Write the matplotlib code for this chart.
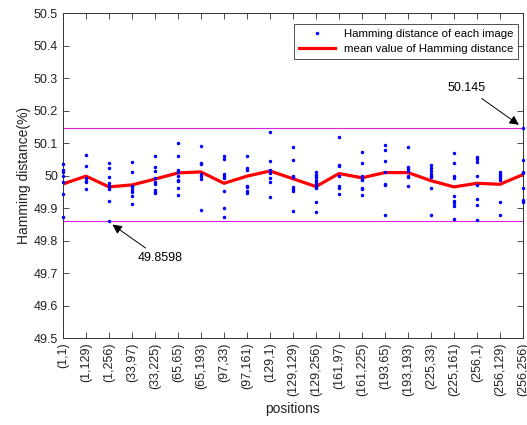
import numpy as np
import matplotlib
matplotlib.use("Agg")
import matplotlib.pyplot as plt
from matplotlib.ticker import FormatStrFormatter

plt.rcParams['font.family'] = ['Liberation Sans', 'DejaVu Sans']

positions = ["(1,1)", "(1,129)", "(1,256)", "(33,97)", "(33,225)", "(65,65)",
             "(65,193)", "(97,33)", "(97,161)", "(129,1)", "(129,129)",
             "(129,256)", "(161,97)", "(161,225)", "(193,65)", "(193,193)",
             "(225,33)", "(225,161)", "(256,1)", "(256,129)", "(256,256)"]

# Hamming distance of each test image, per position (%)
samples = [
    [50.035, 50.018, 50.011, 50.0, 49.981, 49.943, 49.871],
    [50.063, 50.030, 49.991, 49.984, 49.980, 49.958],
    [50.039, 50.023, 49.995, 49.976, 49.968, 49.959, 49.923, 49.860],
    [50.041, 50.010, 49.969, 49.964, 49.955, 49.949, 49.938, 49.913],
    [50.061, 50.027, 50.014, 49.992, 49.981, 49.973, 49.955, 49.950, 49.946],
    [50.101, 50.060, 50.017, 50.010, 50.0, 49.987, 49.983, 49.963, 49.940],
    [50.090, 50.038, 50.034, 50.005, 49.999, 49.990, 49.895],
    [50.061, 50.052, 50.004, 49.997, 49.992, 49.951, 49.899, 49.871],
    [50.060, 50.023, 50.016, 49.969, 49.965, 49.951, 49.946],
    [50.134, 50.045, 50.017, 50.007, 49.992, 49.979, 49.934],
    [50.087, 50.047, 49.997, 49.994, 49.965, 49.958, 49.952, 49.891],
    [50.011, 50.002, 49.994, 49.986, 49.981, 49.975, 49.965, 49.961, 49.920, 49.888],
    [50.120, 50.033, 50.028, 49.998, 49.968, 49.963, 49.942],
    [50.071, 50.037, 49.999, 49.988, 49.986, 49.961, 49.958, 49.940],
    [50.093, 50.077, 50.044, 50.012, 49.975, 49.972, 49.878],
    [50.087, 50.025, 50.020, 50.014, 49.998, 49.994, 49.969],
    [50.033, 50.022, 50.014, 50.006, 50.0, 49.994, 49.961, 49.878],
    [50.070, 50.038, 49.998, 49.992, 49.938, 49.921, 49.915, 49.906, 49.867],
    [50.057, 50.052, 50.041, 49.999, 49.971, 49.927, 49.909, 49.863],
    [50.011, 50.005, 50.0, 49.992, 49.987, 49.917, 49.878],
    [50.145, 50.049, 50.012, 50.007, 49.963, 49.924, 49.918],
]

mean_values = [49.974, 49.998, 49.965, 49.971, 49.989, 50.008, 50.011, 49.976,
               49.998, 50.014, 49.990, 49.966, 50.006, 49.993, 50.009, 50.009,
               49.984, 49.965, 49.976, 49.973, 50.003]

max_value = 50.145
min_value = 49.8598

fig = plt.figure(figsize=(5.27, 4.25), dpi=100)
ax = fig.add_axes([0.1195, 0.2047, 0.8729, 0.7647])

x = np.arange(1, len(positions) + 1)
xs = np.concatenate([[xi] * len(s) for xi, s in zip(x, samples)])
ys = np.concatenate(samples)

ax.axhline(max_value, color="#e020e0", lw=0.8, zorder=1)
ax.axhline(min_value, color="#e020e0", lw=0.8, zorder=1)
ax.plot(xs, ys, ".", color="blue", markersize=3, label="Hamming distance of each image",
        zorder=3, clip_on=False)
ax.plot(x, mean_values, "-", color="red", lw=2.3, label="mean value of Hamming distance",
        zorder=2)

ax.set_xlim(1, len(positions))
ax.set_ylim(49.5, 50.5)
ax.set_yticks(np.arange(49.5, 50.51, 0.1))
ax.yaxis.set_major_formatter(FormatStrFormatter("%g"))
ax.set_xticks(x)
ax.set_xticklabels(positions, rotation=90, fontsize=9)
ax.tick_params(axis="y", labelsize=9)
ax.tick_params(direction="in", top=True, right=True, length=4, width=0.6, color="#333333",
               labelcolor="#222222")
for sp in ax.spines.values():
    sp.set_linewidth(0.7)
    sp.set_color("#333333")

ax.set_xlabel("positions", fontsize=10, color="#222222")
ax.set_ylabel("Hamming distance(%)", fontsize=10, labelpad=2, color="#222222")

ax.annotate("50.145", xy=(len(positions) - 0.08, max_value + 0.006),
            xytext=(17.74, 50.269), fontsize=9, ha="left", va="center",
            arrowprops=dict(arrowstyle="-|>", color="black", lw=0.7, mutation_scale=14))
ax.annotate("49.8598", xy=(3.05, min_value - 0.006),
            xytext=(4.25, 49.745), fontsize=9, ha="left", va="center",
            arrowprops=dict(arrowstyle="-|>", color="black", lw=0.7, mutation_scale=14))

leg = ax.legend(loc="upper right", bbox_to_anchor=(0.9895, 0.966), fontsize=8.2,
                frameon=True, fancybox=False, edgecolor="black", borderpad=0.4,
                handlelength=3.2, labelspacing=0.5, borderaxespad=0)
leg.get_frame().set_linewidth(0.6)

fig.savefig("out.png", dpi=100)
